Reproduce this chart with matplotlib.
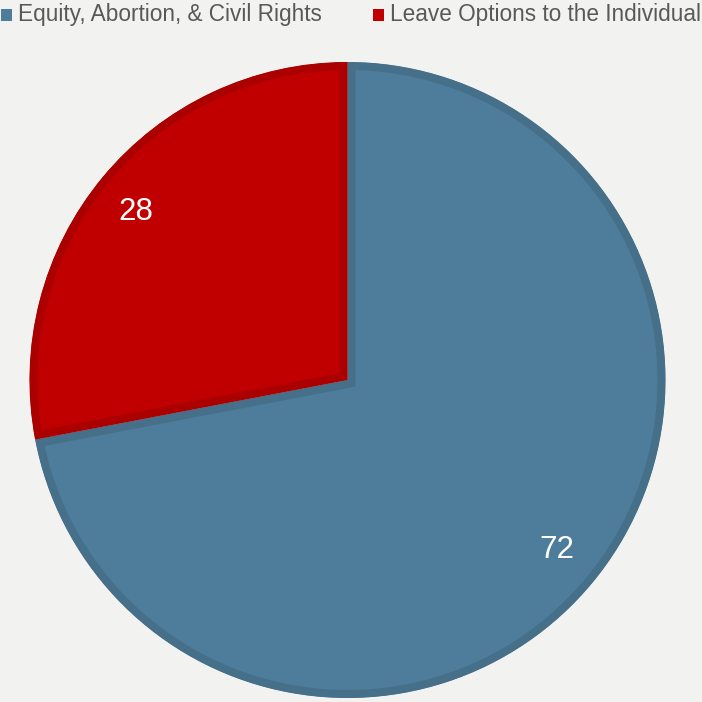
import matplotlib
matplotlib.use("Agg")
import matplotlib.pyplot as plt
from matplotlib.patches import Rectangle

categories = ["Equity, Abortion, & Civil Rights", "Leave Options to the Individual"]
values = [72, 28]
fill_colors = ["#4e7c9b", "#c00000"]
edge_colors = ["#466f89", "#aa0000"]
bg = "#f2f2f0"

W = H = 702
fig = plt.figure(figsize=(7.02, 7.02), dpi=100, facecolor=bg)
ax = fig.add_axes([0, 0, 1, 1])
ax.set_facecolor(bg)
ax.axis("off")

cx, cy, R = 347.5, H - 380, 318
border_px = 8
wedges, texts = ax.pie(values, startangle=90, counterclock=False,
                       colors=fill_colors, center=(cx, cy), radius=R,
                       labels=[str(v) for v in values], labeldistance=0.75,
                       wedgeprops=dict(linewidth=2 * border_px * 72 / 100, joinstyle="miter"),
                       textprops=dict(color="white", fontsize=22.5, family="Liberation Sans"))
for w, ec in zip(wedges, edge_colors):
    w.set_edgecolor(ec)
    w.set_clip_on(True)
    w.set_clip_path(w)
ax.set_xlim(0, W)
ax.set_ylim(0, H)
ax.set_aspect("equal")

label_pos = [(557, 550), (136, 212)]
for t, (x, y) in zip(texts, label_pos):
    t.set_position((x, H - y))
    t.set_ha("center")
    t.set_va("center")

leg_x = [(1, 18), (373, 390)]
for (mx, tx), lab, c in zip(leg_x, categories, fill_colors):
    fig.patches.append(Rectangle((mx / W, 1 - 21 / H), 11 / W, 12 / H,
                                 transform=fig.transFigure, facecolor=c, edgecolor="none"))
    fig.text(tx / W, 1 - 14 / H, lab, color="#595959", fontsize=16.3,
             family="Liberation Sans", ha="left", va="center")

fig.savefig("out.png", dpi=100, facecolor=bg)
